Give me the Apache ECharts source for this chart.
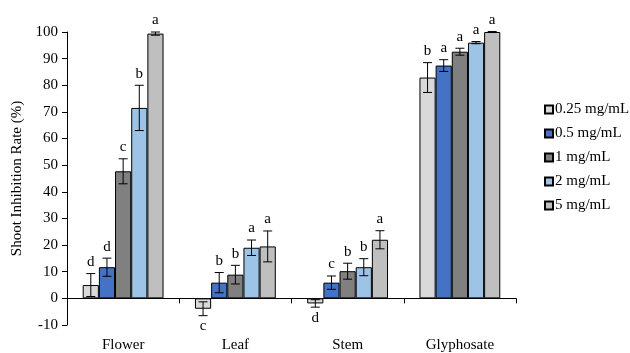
<!DOCTYPE html>
<html>
<head>
<meta charset="utf-8">
<script src="https://cdn.jsdelivr.net/npm/echarts@6/dist/echarts.min.js"></script>
<style>
  html, body { margin: 0; padding: 0; background: #fff; }
  #main { width: 630px; height: 353px; }
</style>
</head>
<body>
<div id="main"></div>
<script>
// categories and concentrations
const groups = ['Flower', 'Leaf', 'Stem', 'Glyphosate'];
const conc = ['0.25 mg/mL', '0.5 mg/mL', '1 mg/mL', '2 mg/mL', '5 mg/mL'];
const colors = ['#D9D9D9', '#4472C4', '#808080', '#9DC3E6', '#BFBFBF'];

// mean values (%)
const v025 = [5.0, -3.9, -1.9, 82.9];
const v05  = [11.7, 5.9, 5.9, 87.4];
const v1   = [47.7, 8.9, 10.2, 92.6];
const v2   = [71.5, 19.0, 11.7, 96.0];
const v5   = [99.4, 19.5, 22.0, 100.0];

// error (+/-)
const e025 = [4.3, 2.6, 1.4, 5.6];
const e05  = [3.4, 3.8, 2.5, 2.2];
const e1   = [4.7, 3.5, 3.0, 1.3];
const e2   = [8.5, 2.9, 3.2, 0.4];
const e5   = [0.6, 5.8, 3.4, 0.2];

// significance letters
const l025 = ['d', 'c', 'd', 'b'];
const l05  = ['d', 'b', 'c', 'a'];
const l1   = ['c', 'b', 'b', 'a'];
const l2   = ['b', 'a', 'b', 'a'];
const l5   = ['a', 'a', 'a', 'a'];

const yTicks = { min: -10, max: 100, interval: 10 };

const vals = [v025, v05, v1, v2, v5];
const errs = [e025, e05, e1, e2, e5];
const lets = [l025, l05, l1, l2, l5];

const FONT = 'Liberation Serif';
const FS = 15;
const GAP = 0.28;

const chart = echarts.init(document.getElementById('main'));

// error bar + letter for one concentration
function errRender(k) {
  return function (params, api) {
    const cat = api.value(0);
    const v = api.value(1);
    const e = api.value(2);
    const band = api.size([1, 0])[0];
    const barW = band * (1 - GAP) / conc.length;
    const cx = api.coord([cat, 0])[0] + (k - (conc.length - 1) / 2) * barW;
    const hi = api.coord([cat, v + e])[1];
    const lo = api.coord([cat, v - e])[1];
    const cap = 4.5;
    const ls = { stroke: '#000', lineWidth: 1 };
    const children = [
      { type: 'line', shape: { x1: cx, y1: hi, x2: cx, y2: lo }, style: ls },
      { type: 'line', shape: { x1: cx - cap, y1: hi, x2: cx + cap, y2: hi }, style: ls },
      { type: 'line', shape: { x1: cx - cap, y1: lo, x2: cx + cap, y2: lo }, style: ls }
    ];
    const letter = lets[k][params.dataIndex];
    if (v >= 0) {
      children.push({ type: 'text', style: { text: letter, x: cx, y: hi - 4, align: 'center', verticalAlign: 'bottom', fontFamily: FONT, fontSize: FS, fill: '#000' } });
    } else {
      children.push({ type: 'text', style: { text: letter, x: cx, y: lo + 3, align: 'center', verticalAlign: 'top', fontFamily: FONT, fontSize: FS, fill: '#000' } });
    }
    return { type: 'group', children: children };
  };
}

const series = [];
conc.forEach(function (name, k) {
  series.push({
    name: name,
    type: 'bar',
    barGap: 0,
    barCategoryGap: (GAP * 100) + '%',
    itemStyle: { color: colors[k], borderColor: '#000', borderWidth: 1 },
    data: vals[k],
    animation: false
  });
});
conc.forEach(function (name, k) {
  series.push({
    type: 'custom',
    z: 3,
    renderItem: errRender(k),
    data: groups.map(function (g, i) { return [i, vals[k][i], errs[k][i]]; }),
    animation: false
  });
});

const option = {
  backgroundColor: '#fff',
  textStyle: { fontFamily: FONT },
  grid: { left: 67, right: 114, top: 32, bottom: 27 },
  legend: {
    orient: 'vertical',
    left: 539,
    top: 97,
    data: conc,
    icon: 'rect',
    itemWidth: 8,
    itemHeight: 8,
    itemGap: 9,
    textStyle: { fontFamily: FONT, fontSize: FS, color: '#000', padding: [0, 0, 0, -3] }
  },
  xAxis: [
    {
      type: 'category',
      data: groups,
      axisLine: { onZero: true, lineStyle: { color: '#000', width: 1 } },
      axisTick: { show: true, length: 5, lineStyle: { color: '#000' } },
      axisLabel: { show: false }
    },
    {
      type: 'category',
      data: groups,
      position: 'bottom',
      axisLine: { show: false, onZero: false },
      axisTick: { show: false },
      axisLabel: { fontFamily: FONT, fontSize: FS, color: '#000', margin: 13 }
    }
  ],
  yAxis: {
    type: 'value',
    min: yTicks.min,
    max: yTicks.max,
    interval: yTicks.interval,
    name: 'Shoot Inhibition Rate (%)',
    nameLocation: 'middle',
    nameGap: 42,
    nameTextStyle: { fontFamily: FONT, fontSize: FS, color: '#000' },
    axisLine: { show: true, lineStyle: { color: '#000', width: 1 } },
    axisTick: { show: true, length: 5, lineStyle: { color: '#000' } },
    axisLabel: { fontFamily: FONT, fontSize: FS, color: '#000', margin: 9 },
    splitLine: { show: false }
  },
  series: series
};

chart.setOption(option);
</script>
</body>
</html>
